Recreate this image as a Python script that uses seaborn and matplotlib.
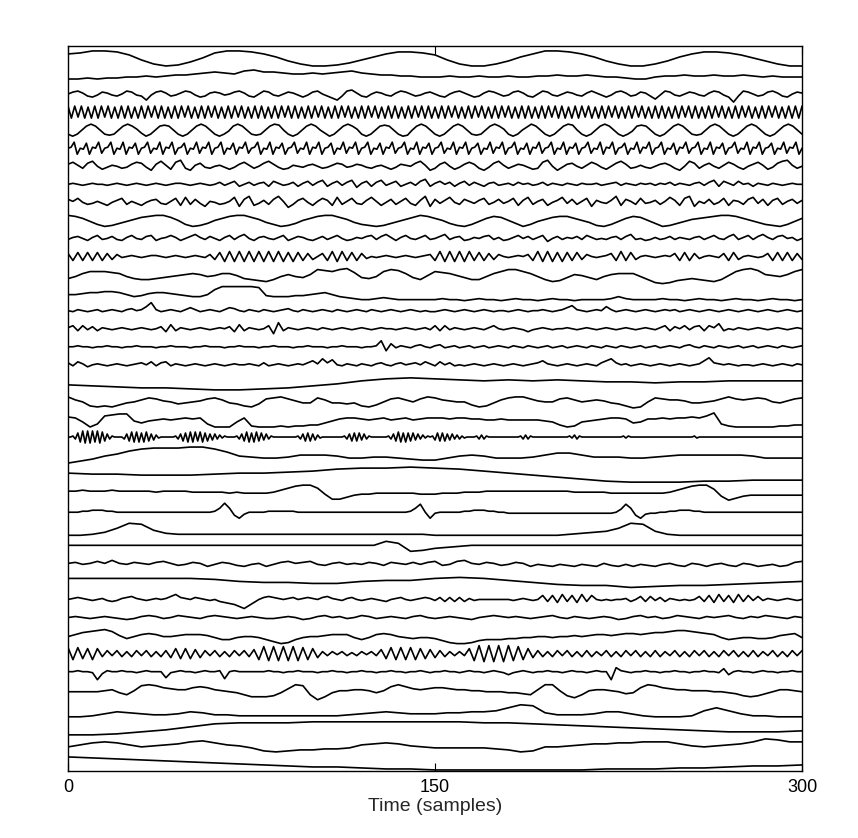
import numpy as np
import pandas as pd
import matplotlib.pyplot as plt
import seaborn as sns

# 40 stacked channels, top to bottom. values are amplitudes (+ is up),
# each list covers samples 0..300 at its own even spacing
ch01 = [4, 5, 7, 7, 6, 3, -2, -6, -8, -7, -4, 0, 5, 7, 7, 6, 4, 1, -3, -6,
        -8, -8, -7, -5, -2, 1, 4, 6, 6, 5, 3, -2, -6, -8, -8, -6, -3, 1, 4, 7,
        7, 6, 4, 1, -3, -6, -8, -8, -6, -3, 1, 4, 6, 6, 5, 3, 0, -3, -6, -8, -8]
ch02 = [-3, -3, -2, -3, -2, -2, -1, -1, 0, -1, 0, 1, 1, 2, 3, 4, 3, 2, 5, 6,
        4, 4, 3, 2, 2, 3, 2, 3, 4, 5, 3, 2, 1, 1, 0, 0, -1, -1, -1, 0,
        -1, -1, 0, -1, -1, 0, -1, -1, 0, 0, 1, 0, 0, 1, 0, -1, -1, -2, -3, -3,
        -1, 0, 0, 1, 0, 0, 1, 0, 0, 1, 0, -1, 0, -1, -1, -1]
ch03 = [0, 2, 3, 1, -2, -3, -1, 2, 1, -1, -2, 0, 3, 2, -1, -2, -6, -1, 2, 3,
        1, -2, -1, 1, 3, 2, -1, -3, -2, 1, 2, 1, -1, 0, 2, 3, 1, -2, -3, 0,
        3, 2, -1, -2, 0, 2, 1, -1, -3, -1, 2, 3, 0, -2, -4, -6, -2, 3, 4, 1,
        -2, -3, 0, 2, 1, -1, -2, 1, 3, 2, 0, -2, -1, 1, 2, 0, -2, -3, 0, 2,
        3, 1, -1, -3, -2, 1, 3, 2, 0, -2, -1, 2, 3, 1, -2, -3, 0, 3, 2, -1,
        -2, 0, 2, 1, -1, -2, 1, 3, 1, -1, -3, -1, 2, 3, 1, -2, -1, 2, 1, -2,
        -5, -1, 3, 2, -1, -2, 0, 2, 1, -1, -2, 1, 3, 2, -1, -3, -8, -2, 3, 2,
        0, -2, -1, 2, 3, 1, -2, -3, 0, 2, 1]
ch04 = [6, -6, 6, -5, 6, -6, 5, -6, 6, -6, 6, -5, 6, -6, 5, -6, 6, -6, 6, -6,
        5, -6, 6, -6, 6, -5, 6, -6, 6, -6, 5, -6, 6, -6, 6, -5, 6, -6, 5, -6,
        6, -6, 6, -5, 6, -6, 5, -6, 6, -6, 6, -5, 6, -6, 5, -6, 6, -6, 6, -6,
        5, -6, 6, -6, 6, -5, 6, -6, 6, -6, 5, -6, 6, -6, 6, -5, 6, -6, 5, -6,
        6, -6, 6, -5, 6, -6, 5, -6, 6, -6, 6, -5, 6, -6, 5, -6, 6, -6, 6, -6,
        5, -6, 6, -6, 6, -5, 6, -6, 6, -6, 5, -6, 6, -6, 6, -5, 6, -6, 5, -6,
        6, -6, 6, -5, 6, -6, 5, -6, 6, -6, 6, -5, 6, -6, 5, -6, 6, -6, 6, -6,
        5, -6, 6, -6, 6, -5, 6, -6, 6, -6, 5, -6, 6, -6, 6, -5, 6, -6, 5, -6,
        6, -6, 6, -5, 6, -6, 5, -6, 6, -6, 6, -5, 6, -6, 5, -6, 6, -6, 6, -6,
        5, -6, 6, -6, 6, -5, 6, -6, 6, -6, 5, -6, 6, -6, 6, -5, 6, -6, 5, -6,
        6, -6, 6, -5, 6, -6, 5, -6, 6, -6, 6, -5, 6, -6, 5, -6, 6, -6, 6, -6,
        6]
ch05 = [-4, -6, -4, 0, 4, 6, 4, 0, -4, -5, -4, 0, 4, 6, 4, 1, -3, -6, -4, 0,
        4, 5, 4, 0, -4, -6, -4, 0, 4, 6, 4, 0, -4, -6, -4, -1, 4, 6, 4, 0,
        -4, -5, -4, 0, 4, 6, 5, 0, -4, -6, -4, 0, 4, 6, 4, 0, -3, -6, -4, 0,
        4, 6, 4, 1, -4, -6, -4, 0, 4, 5, 4, 0, -4, -6, -5, 0, 4, 6, 4, 0,
        -4, -6, -4, 0, 4, 6, 4, 0, -4, -5, -4, 0, 4, 6, 4, 1, -4, -6, -4, 0,
        3, 6, 4, 0, -4, -6, -4, 0, 4, 6, 5, 0, -4, -6, -4, 0, 4, 6, 4, 0,
        -4, -6, -4, -1, 4, 5, 4, 0, -4, -6, -4, 0, 4, 6, 4, 0, -4, -5, -4, 0,
        4, 6, 4, 0, -4, -6, -4, 0, 4, 6, 4, 0, -4, -6, -4, 0, 4, 6, 4, 0, -4]
ch06 = [0, 1, 6, -6, 0, -1, 5, -6, 1, 0, 6, -5, 0, 1, 6, -6, 0, -1, 6, -6, 1, 0, 5, -6,
        0, 1, 6, -5, 0, -1, 6, -6, 1, 0, 6, -6, 0, 1, 5, -6, 0, -1, 6, -5, 1, 0, 6, -6,
        0, 1, 6, -6, 0, -1, 5, -6, 1, 0, 6, -5, 0, 1, 6, -6, 0, -1, 6, -6, 1, 0, 5, -6,
        0, 1, 6, -5, 0, -1, 6, -6, 1, 0, 6, -6, 0, 1, 5, -6, 0, -1, 6, -5, 1, 0, 6, -6,
        0, 1, 6, -6, 0, -1, 5, -6, 1, 0, 6, -5, 0, 1, 6, -6, 0, -1, 6, -6, 1, 0, 5, -6,
        0, 1, 6, -5, 0, -1, 6, -6, 1, 0, 6, -6, 0, 1, 5, -6, 0, -1, 6, -5, 1, 0, 6, -6,
        0, 1, 6, -6, 0, -1, 5, -6, 1, 0, 6, -5, 0, 1, 6, -6, 0, -1, 6, -6, 1, 0, 5, -6,
        0, 1, 6, -5, 0, -1, 6, -6, 1, 0, 6, -6, 0, 1, 5, -6, 0, -1, 6, -5, 1, 0, 6, -6,
        0, 1, 6, -6, 0, -1, 5, -6, 1, 0, 6, -5, 0, 1, 6, -6, 0, -1, 6, -6, 1, 0, 5, -6,
        0, 1, 6, -5, 0, -1, 6, -6, 1, 0, 6, -6, 0, 1, 5, -6, 0, -1, 6, -5, 1, 0, 6, -6,
        0]
ch07 = [2, 4, 1, -2, 3, 5, 0, -3, -1, 1, 0, -2, -1, 2, 4, 3, -1, -4, 2, 5,
        1, -3, 4, 6, -2, -4, 1, 3, -1, -2, 0, 1, -1, -3, -1, 2, 4, 1, -2, 0,
        3, 5, 2, -1, -3, -2, 1, 0, -1, 1, 2, 0, -2, -1, 1, 3, 2, -1, 0, 2,
        1, -1, -2, 0, 1, -1, -3, -1, 2, 1, 0, 3, 5, 1, -4, -2, 2, 4, 0, -3,
        -1, 2, 4, 2, -2, -4, -1, 3, 5, 1, -2, 0, 2, 1, -1, -3, -2, 4, 6, 0,
        -4, -1, 2, 3, 0, -2, 1, 4, 2, -1, -3, 0, 3, 5, 2, -2, -1, 1, -1, -2,
        0, 2, 3, 1, -2, -4, 0, 5, 3, -2, 1, 3, 0, -2, 1, 4, 2, -1, -3, 0,
        2, 4, 1, -3, -1, 3, 5, 6, 1, -2, 0]
ch08 = [0, 1, 0, -1, 0, 1, 0, 0, -1, 0, 1, 0, -1, 0, 1, 0, -1, 0, 1, 0,
        -1, 0, 1, 1, 0, -1, 0, 1, 0, -1, 0, 2, -1, 1, 3, -2, 0, 2, -1, 1,
        2, -2, 3, 1, -1, 0, 2, -2, 1, 3, -1, 2, 4, -2, 1, 3, -1, 2, 4, -3,
        1, 3, -2, 2, 4, -1, 1, 3, -2, 0, 2, -1, 3, 5, -2, 1, 3, 0, 2, -2,
        1, 3, -1, 2, 0, -2, 1, 2, -1, 0, 1, -1, 2, 0, 1, -1, 0, 2, -1, 1,
        0, -1, 1, 0, -1, 1, 0, 0, 1, -1, 0, 1, 2, -1, 1, 0, -1, 1, 0, 1,
        -1, 1, 0, 2, -1, 1, 0, -1, 1, 2, -1, 2, 4, -2, 3, 1, -1, 3, 0, 1,
        -2, 1, 0, -1, 1, 0, -1, 0, 1, 0, 0]
ch09 = [3, 1, 4, 0, -2, -1, 1, -1, -3, 0, 2, 4, -2, 1, -1, -3, 0, 2, 3, -1,
        -2, 1, 4, -3, 5, -2, 3, -1, -4, 1, 0, -2, -1, 1, 5, -4, 3, 6, -3, -1,
        2, -2, 3, 6, 1, -5, -2, 2, 4, 0, -3, 1, 4, 2, -3, 5, -2, 1, 4, -1,
        -2, 2, 5, 1, -3, 0, 3, -2, 1, 4, -1, -3, 2, 6, -4, 3, -1, 2, 5, 0,
        -2, 3, 1, -1, 2, 4, -2, 0, 3, -1, 1, 4, -3, 2, 5, -2, 1, 3, -3, 0,
        2, 5, -1, 3, -2, 1, 4, -4, 2, 0, -1, 2, 6, -3, 3, 1, -2, 4, -1, 0,
        2, -2, 1, 5, 2, -3, 4, 6, -4, 1, -1, 3, -2, 0, 4, -3, 2, 1, -2, 3,
        5, -1, 3, -3, 2, 4, -2, 1, 3, -1, 2]
ch10 = [5, 4, 2, -1, -4, -6, -5, -3, -1, 1, 3, 4, 5, 5, 3, 0, -4, -6, -5, -3,
        0, 2, 4, 5, 5, 3, 1, -2, -4, -6, -5, -3, 0, 2, 4, 5, 5, 3, 1, -2,
        -4, -5, -6, -5, -3, -1, 1, 3, 5, 4, 2, 0, -3, -5, -6, -4, -1, 2, 4, 3,
        0, -3, -6, -4, -1, 1, 3, 4, 4, 2, 0, -2, -5, -6, -4, -1, 2, 4, 3, 0,
        -3, -6, -5, -3, -1, 1, 2, 3, 4, 5, 5, 4, 2, 0, -2, -4, -5, -6, -4, -1, 2]
ch11 = [-1, 1, 2, 0, -2, 1, 3, -1, 0, 2, -1, -2, 1, 3, 0, -1, 2, 3, -2, 0,
        1, 3, 1, -2, 0, 2, 4, 1, -1, 2, 0, -2, 1, 3, -1, 2, 4, 0, -2, 1,
        2, 0, -1, 1, 3, -2, 0, 2, 1, -1, -2, 0, 2, -1, 1, 3, 0, -2, -1, 1,
        0, 2, 3, -1, 2, 4, 1, -2, 1, 3, 0, -1, 1, 3, -1, 0, 2, 4, -1, 1,
        2, -2, -1, 1, 0, 2, 3, -1, 1, -2, -1, 1, 3, 0, 2, -1, 1, 3, -3, 0,
        2, -1, 1, 0, 2, -1, 3, 1, -1, 0, -1, 1, 2, -1, 2, 4, -1, 0, -2, -1,
        1, -1, 0, 2, -1, 1, 0, -1, 1, 2, -1, 1, 3, 0, -1, 2, 4, -1, 1, 3,
        -1, 2, 4, 1, -1, 2, 3, 0, 1, -2, 0]
ch12 = [3, -4, 4, -4, 4, -4, 4, -4, 3, -3, 2,
        -1, 0, 1, 0, -1, 0, 1, 1, 0, -1, 0, 1, 0, -1, 0, 1, 0, -1,
        2, -3, 4, -5, 5, -5, 5, -5, 5, -5, 5, -5, 5, -5, 5, -5, 4, -5, 4, -4, 3, -3,
        0, 3, -4, 5, -5, 5, -4, 4, -4, 3, -2,
        0, -1, 0, 1, 0, -1, 0, 1, 0, -1, 0, 1,
        2, -4, 5, -5, 5, -5, 5, -5, 5, -4, 4, -4, 3, -3, 2,
        0, -1, 0, 1, 0,
        2, -4, 5, -5, 5, -5, 4, -5, 4, -4, 4, -3, 2,
        0, -1, 0, 1, 3, -4, 5, -4, 4, -3,
        0, 1, 0, -1, 0, 1, 0, 3, -4, 4, -4, 3, -2,
        0, 1, 0, -1, 3, -4, 4, -3, 0, 1, 0, -1, 0,
        3, -4, 4, -4, 4, -4, 3, -3]
ch13 = [-4, -2, 1, 3, 3, 3, 2, 1, -2, -4, -5, -5, -4, -3, -2, -1, 0, 1, 0, -2,
        -1, 1, 1, -1, -4, -5, -6, -7, -5, -2, 0, -2, -3, 0, 5, 4, 3, 5, 6, 2,
        -3, -4, -2, 3, 5, 4, 1, -3, -5, -1, 3, 2, 1, -1, -3, -5, -5, -2, 1, 3,
        5, 5, 3, 1, -2, -5, -7, -6, -3, 0, -1, -3, -5, -2, 0, 1, 1, 1, -2, -5,
        -8, -9, -8, -6, -5, -4, -5, -6, -7, -5, -1, 3, 5, 6, 4, 0, -1, -2, 0, 3, 5]
ch14 = [-2, -2, -1, 0, 0, 1, 1, 0, -2, -4, -3, -1, 0, 0, -1, -2, -3, -4, -4, -2,
        3, 6, 6, 6, 6, 6, 5, -3, -4, -4, -4, -3, -3, -2, -1, 0, -2, -4, -5, -6,
        -7, -7, -6, -5, -6, -7, -7, -7, -7, -7, -7, -6, -7, -7, -8, -7, -6, -7, -7, -8,
        -7, -6, -7, -7, -8, -7, -6, -7, -7, -8, -7, -7, -7, -7, -6, -4, -6, -7, -7, -7,
        -7, -6, -7, -7, -8, -7, -6, -7, -7, -8, -7, -6, -7, -7, -8, -7, -6, -7, -7, -8, -7]
ch15 = [0, -1, 1, 0, -1, 0, 1, -1, 0, 1, 0, -1, 1, 2, 0, 1, 4, 8, 1, -1,
        0, 1, 0, -1, 1, 3, 1, -1, 0, 1, 0, -1, 1, 3, 2, 0, -1, 1, 0, -1,
        1, 0, -1, 0, 1, 2, 0, -1, 1, 0, -1, 0, 1, 0, -1, 1, 0, -1, 0, 1,
        0, -1, 1, 0, -1, 0, 1, 0, -1, 0, 1, 0, -1, 0, -1, -1, 0, 1, 0, -1,
        0, 1, 0, -1, 0, 1, 0, -1, 0, 0, -1, 0, 1, 0, -1, 0, 0, 1, 0, -1,
        0, 1, 3, 5, 1, 0, -1, 0, 1, 0, 4, 1, -1, 0, 1, 0, -1, 0, 1, 0,
        -1, 0, 1, 0, 1, -1, 0, 1, 0, -1, 0, 1, 0, -1, 0, 1, 0, -1, 0, 1,
        0, -1, 0, 1, 0, -1, 0, 1, 0, -1, 0]
ch16 = [1, 3, -2, 3, -1, 2, -2, 1, 0, -1, 0, 1, 0, -1, 0, 1, 0, -1, 0, 2,
        -3, 4, -2, 1, 0, -1, 0, 1, 0, -1, 0, 1, 0, 2, -3, 4, -2, 1, 0, -1,
        0, 3, -5, 6, -2, 1, 0, -1, 0, 1, 0, -1, 1, 0, -1, 0, 1, 0, -1, 0,
        1, 0, -1, 0, 1, 0, 0, -1, 0, 1, 0, -1, 0, 1, -1, 3, -2, 3, -1, 1,
        0, -1, 0, 1, 0, -1, 1, 3, 0, -1, 0, 1, 0, -1, -3, -1, 0, 1, 0, -1,
        0, 0, 1, 0, -1, 0, 1, 0, -1, 0, 1, 0, -1, 0, 1, 0, -1, 0, 1, 0,
        -1, 1, 3, -2, 2, 0, 3, -1, 2, 3, -2, 3, 1, 5, -2, 0, -1, 1, 0, -1,
        0, 1, 0, -1, 0, 1, 0, -1, 0, 1, 0]
ch17 = [0, 0, 1, 0, 0, -1, 0, 0, 1, 0, 0, -1, 0, 0, 1, 0, 0, 0, -1, 0,
        0, 1, 0, 0, 0, -1, 0, 0, 1, 0, 0, 0, -1, 0, 0, 1, 0, 0, 0, -1,
        0, 0, 1, 0, 0, 0, -1, 0, 0, 1, 0, 0, 0, -1, 0, 0, 1, 0, 0, 0,
        -1, 0, 0, 1, 6, -4, 3, -1, 1, 0, -1, 1, 2, 0, -1, 1, 2, -1, 0, 1,
        -1, 0, 1, -1, 0, 1, -1, 0, 1, 0, -1, 1, 0, -1, 1, 0, -1, 0, 1, -1,
        0, 1, -1, 0, 1, 0, -1, 1, 0, -1, 1, 0, -1, 1, 0, -1, 0, 1, -1, 0,
        1, -1, 0, 1, 0, -1, 1, 2, 0, -1, 1, 0, -1, 1, 0, -1, 0, 1, -1, 0,
        1, -1, 0, 1, 0, -1, 1, 0, -1, 0, 1]
ch18 = [2, -1, 3, 1, -2, 0, 1, 0, -1, 0, 1, 0, -1, 0, 1, 2, 0, 3, -1, 2,
        3, -1, 1, 0, -1, 0, 1, 0, -1, 0, 1, 0, -1, 0, 1, 0, 0, 1, 0, -1,
        2, -1, 0, 1, 0, -1, 0, 1, 0, 2, 4, 1, 6, 2, 5, 0, -1, 1, 0, -1,
        1, 0, -1, 1, 2, 0, -1, 1, 2, 0, 1, 2, 0, 3, 1, -1, 3, 0, 2, -1,
        0, -1, 0, 1, 0, -1, 0, 1, 0, -1, 0, 1, 0, -1, 0, 1, 2, 4, 1, 0,
        -1, 0, 1, 0, -1, 0, 1, 0, -1, 2, 4, 6, 2, 0, 1, -1, 0, 1, 0, -1,
        0, 1, 0, -1, 0, 1, 0, -1, 0, 1, 4, 7, 2, 1, 0, 1, 0, -1, 0, 0,
        -1, 0, 1, 0, -1, 0, 1, 0, -1, 1, 0]
ch19 = [-2, -3, -4, -5, -5, -6, -7, -7, -6, -5, -3, -1, 2, 4, 5, 4, 3, 2, 3, 2,
        3, 2, 1, 1, 0, 1, 1, 2, 2, 2, 2]
ch20 = [4, 1, -1, -5, -6, -5, -6, -4, -2, -1, 1, 3, 2, 0, -1, -3, -2, -1, 0, 2,
        3, 1, -2, -3, -5, -6, -3, 2, 3, 4, 2, 0, -2, -2, 3, 1, -2, -2, -3, -2,
        -5, -6, -4, -1, 2, 3, 1, -1, 2, 4, 3, 1, 0, -1, -1, -4, -6, -5, -2, 1,
        3, 4, 4, 2, 0, -1, -1, 2, 3, 1, -1, 0, 1, 0, -2, -3, -5, -7, -6, -1,
        3, 2, 1, 1, 0, -2, -2, -1, 0, 2, 4, 2, 1, 2, 3, 2, -1, -2, 0, 2, 3]
ch21 = [2, 1, -3, -8, -5, 3, 4, 5, 5, -2, -4, -2, -1, 0, -1, 0, 1, 0, 1, -5,
        -8, -8, -8, -3, 1, -7, -8, -8, -8, -7, -8, -7, -7, -6, -6, -4, -2, 0, 1, 1,
        0, -1, 0, 1, -1, 0, 1, -1, 0, 1, 1, 1, 0, 1, 1, 0, 0, -1, -1, 0,
        -1, -1, -1, -1, -1, -2, -3, -6, -8, -7, -3, -2, -1, 0, 1, 1, 0, -4, -3, 0,
        0, 1, 0, 1, 1, 2, 1, 3, 6, -5, -7, -8, -8, -8, -8, -8, -8, -7, -7, -6, -6]
ch22 = [0, 0, 1, -2, 4, -5, 6, -6, 6, -6, 6, -5, 6, -6, 5, -4, 3, -2, 1, 0,
        0, 0, 0, -2, 3, -4, 5, -5, 5, -5, 4, -5, 5, -4, 3, -3, 2, -1, 0, 0,
        0, 0, 0, 0, 1, -2, 3, -4, 4, -5, 5, -5, 5, -4, 5, -5, 4, -4, 3, -3,
        3, -2, 2, -1, 1, 0, 0, 0, 0, 1, -2, 3, -4, 5, -5, 4, -5, 5, -4, 4,
        -3, 3, -2, 1, 0, 0, 0, 0, 0, 0, 0, 0, 0, 0, 1, -2, 3, -4, 4, -4,
        3, -3, 2, -1, 0, 0, 0, 0, 0, 0, 0, 0, 0, 1, -2, 3, -4, 4, -4, 4,
        -3, 3, -2, 1, 0, 0, 0, 0, 0, 0, 0, 1, -2, 3, -4, 5, -5, 4, -5, 4,
        -4, 4, -3, 3, -2, 2, -1, 1, 0, 1, -3, 4, -4, 4, -4, 3, -3, 3, -2, 2,
        -2, 1, -1, 0, 0, 0, 0, 1, -2, 2, -2, 1, 0, 0, 0, 0, 0, 0, 0, 0,
        0, 0, 0, 0, 0, 1, -2, 2, -2, 1, 0, 0, 0, 0, 0, 0, 0, 0, 0, 0,
        0, 0, 0, 0, 0, 1, -1, 2, -2, 1, 0, 0, 0, 0, 0, 0, 0, 0, 0, 0,
        0, 0, 0, 0, 0, 0, 0, 1, -1, 1, 0, 0, 0, 0, 0, 0, 0, 0, 0, 0,
        0, 0, 0, 0, 0, 0, 0, 0, 0, 0, 0, 0, 0, 0, 0, 0, 1, -1, 0, 0,
        0, 0, 0, 0, 0, 0, 0, 0, 0, 0, 0, 0, 0, 0, 0, 0, 0, 0, 0, 0,
        0, 0, 0, 0, 0, 0, 0, 0, 0, 0, 0, 0, 0, 0, 0, 0, 0, 0, 0, 0,
        0]
ch23 = [-8, -6, -4, -1, 1, 4, 6, 7, 7, 7, 8, 8, 6, 3, -1, -2, -3, -3, -2, 0,
        0, 0, -1, -3, -3, -2, -2, -3, -4, -5, -5, -3, -1, 0, -1, -3, -3, -3, -2, 0,
        2, 2, 0, -2, -2, -2, -3, -3, -2, -1, 0, 0, 0, 0, 0, 0, -1, -3, -3, -3, -3]
ch24 = [0, -1, -1, -2, -2, -2, -1, 0, 0, 1, 2, 4, 5, 5, 6, 5, 4, 2, 0, -2,
        -4, -6, -8, -9, -9, -9, -8, -8, -7, -7, -7]
ch25 = [0, 0, 1, 0, 0, 0, 1, 0, 0, 0, 0, 0, -1, 0, 0, 0, 0, -1, -1, -1,
        -1, -1, -2, -1, -2, -2, -2, -2, -1, 1, 3, 5, 6, 6, 3, -3, -8, -8, -6, -4,
        -3, -3, -2, -2, -2, -2, -2, -2, -3, -3, -3, -2, -2, -2, -1, -1, -1, 0, 0, 0,
        0, 0, 0, 0, 0, 0, 0, 0, 0, -1, -1, -1, -1, -1, -2, -2, -2, -2, -2, -2,
        -2, -2, -1, 1, 3, 5, 6, 6, 2, -5, -9, -7, -5, -4, -4, -4, -4, -4, -4, -4, -4]
ch26 = [-3, -3, -3, -2, -2, -1, -1, -1, -2, -2, -3, -3, -3, -3, -3, -3, -3, -3, -3, -3,
        -3, -3, -3, -3, -3, -3, -3, -3, -3, -3, -2, 1, 6, 1, -6, -9, -5, -3, -3, -3,
        -3, -2, -2, -2, -2, -2, -2, -3, -3, -3, -3, -3, -3, -3, -3, -3, -3, -3, -3, -3,
        -3, -3, -3, -3, -3, -3, -3, -3, -3, -3, -2, 1, 5, -3, -9, -4, -3, -3, -3, -3,
        -3, -2, -2, -1, -1, -1, -2, -2, -3, -3, -4, -4, -4, -4, -4, -4, -4, -4, -4, -4,
        -4, -4, -4, -4, -4, -4, -4, -4, -4, -4, -4, -4, -3, 0, 5, 1, -6, -9, -5, -4,
        -4, -3, -3, -2, -2, -1, -1, -1, -2, -2, -3, -3, -3, -3, -3, -3, -3, -3, -3, -3,
        -3, -3, -3, -3, -3, -3, -3, -3, -3, -3, -3]
ch27 = [-8, -8, -7, -5, -1, 4, 3, -3, -6, -7, -7, -7, -7, -7, -7, -7, -7, -7, -7, -7,
        -7, -7, -7, -7, -7, -7, -7, -7, -7, -7, -8, -8, -8, -8, -8, -8, -8, -8, -8, -8,
        -8, -7, -6, -5, -4, -1, 4, 3, -4, -7, -8, -8, -8, -8, -8, -8, -8, -8, -8, -8, -8]
ch28 = [0, 0, 0, 0, 0, 0, 0, 0, 0, 0, 0, 0, 0, 0, 0, 0, 0, 0, 0, 0,
        0, 0, 0, 0, 0, 0, 4, 2, -6, -5, -3, -2, -1, 0, 0, 0, 0, 0, 0, 0,
        0, 0, 0, 0, 0, 0, 0, 0, 0, 0, 0, 0, 0, 0, 0, 0, 0, 0, 0, 0, 0]
ch29 = [0, 1, -1, 0, 2, 0, 3, 0, -1, 1, 0, -1, 1, 2, 0, -2, -1, 1, 0, -3,
        -1, 1, 0, -2, -3, -1, 0, -3, -1, 1, 2, 0, 1, 2, -1, -2, 0, 1, -1, 0,
        -1, 1, 0, -2, 1, 0, -1, 1, -1, 1, 2, -2, -1, 2, 3, 0, -1, 1, 0, -2,
        -1, 1, 0, -3, -1, -2, -3, -1, -2, -3, -1, -2, -3, 0, -2, -3, -1, -3, -1, -2,
        -3, -1, 0, -2, -3, 0, -1, -3, -1, 0, -2, -3, 0, -1, -3, -2, -1, -3, -2, 1, 2]
ch30 = [3, 3, 3, 3, 3, 3, 2, 0, -1, -1, -2, -2, 0, 1, 1, 3, 4, 3, 1, -1,
        -3, -4, -4, -6, -5, -4, -4, -3, -2, -1, 0]
ch31 = [0, 1, 2, 1, 0, -1, 0, 1, -1, -2, -1, 1, 2, 3, 1, 0, -1, 0, 1, 0,
        1, 3, 5, 2, 1, 0, 2, 1, 0, -1, 0, -2, -3, -4, -5, -7, -9, -6, -3, 0,
        2, 3, 2, 1, 0, 1, 2, 0, 1, 2, 1, 0, 2, 3, 1, 0, -1, 1, 2, 0,
        -1, 0, 1, 0, -1, -2, 0, 1, 2, 0, -1, 0, 1, 2, 1, -1, 2, -2, 2, -2,
        2, -2, 1, -1, 0, 0, 0, 0, 0, 0, 0, -1, 0, 1, 0, -1, 0, 4, -2, 4,
        -3, 5, -2, 4, -3, 5, -2, 4, 0, -1, 0, -1, 0, 0, 1, -2, 0, 3, -2, 3,
        -1, 2, -2, 1, 0, -1, 0, -1, 0, 3, -2, 4, -3, 5, -2, 4, -3, 5, -2, 4,
        -1, 3, -1, 1, 0, -1, 0, 1, 0, -1, 0]
ch32 = [0, 1, 0, -1, 0, 1, 0, -1, -2, -1, 1, 2, 1, -1, 0, 2, 1, 0, -1, 1,
        2, 1, 0, -1, 0, 1, 0, -1, -1, 0, 1, 0, -2, -1, 1, 2, 0, 1, -1, 0,
        2, 1, -1, 0, 1, 0, -1, 1, 2, 0, -1, 0, 1, 0, -1, -2, 0, 1, 2, 1,
        0, 1, 0, -1, 0, 1, 2, 0, -1, 1, 0, -1, 0, 1, 0, -2, -1, 1, 2, 0,
        1, -1, 0, 2, 1, 0, -1, 1, 0, 1, 2, 0, -1, 1, 0, 2, 1, 0, -1, 1, 0]
ch33 = [-1, 1, 3, 4, 5, 6, 4, 0, -3, -1, 1, 2, 1, -1, -1, 0, 1, 1, 1, 0,
        -2, -4, -4, -2, -1, -1, -2, -4, -6, -8, -7, -4, -2, -1, -1, 0, 1, 1, 1, -2,
        -4, -2, 1, 2, 1, -1, -2, -3, -2, -2, -3, -5, -7, -8, -8, -7, -5, -4, -4, -4,
        -3, -3, -2, -2, -1, -1, -2, -1, -1, 0, -1, 0, 1, 1, 0, 1, 2, 2, 1, 2,
        3, 3, 4, 5, 5, 4, 3, 2, 1, -2, -4, -3, -2, -2, -3, -3, -2, 0, 1, 2, -2]
ch34 = [6, -6, 6, -5, 5, -6, 5,
        -3, 3, -2, 3, -3, 2, -3, 3, -2, 3, -3, 2, -3, 3,
        -4, 5, -5, 5, -5, 4, -4,
        3, -2, 3, -3, 2, -3, 3, -2, 3, -3, 4,
        -6, 7, -7, 7, -7, 7, -7, 7, -7, 6, -6, 5, -4,
        2, -2, 2, -1, 2, -2, 1, -2, 2, -1, 2, -2,
        4, -5, 6, -6, 6, -6, 6, -6, 5, -5, 4, -4, 3, -3, 2,
        -2, 2, -2,
        5, -7, 8, -8, 8, -8, 8, -8, 8, -7, 7, -6, 5, -4,
        3, -3, 2, -3, 3, -2, 3, -3, 2, -3, 3, -3, 2, -2, 3, -3, 2, -3, 3, -2,
        3, -3, 2, -3, 3, -3, 2, -2, 3, -3, 2, -3, 3, -2, 3, -3, 2, -3, 3, -2,
        3, -3, 2, -3, 3, -3, 2, -2, 3, -3, 2, -3, 3, -2, 3]
ch35 = [0, 0, 1, 0, 0, -1, -8, -2, 1, 0, 0, 1, 0, 0, -1, 0, 1, 0, 0, 0,
        -6, -1, 0, 1, 0, 0, -1, 0, 1, 0, 0, 1, -7, 0, 1, 0, 0, 0, 0, 0,
        0, 1, 0, 0, -1, 0, 0, 1, 0, 0, 0, -1, 0, 0, 1, 0, 0, -1, 0, 0,
        1, 0, 0, -1, 0, 0, 1, 0, 0, -1, 0, 0, 1, 0, -1, 0, 0, 1, 0, 0,
        -1, 0, 1, 0, 0, -1, 0, 1, 0, -1, -3, -1, 0, 1, 0, -1, 0, 0, 1, 0,
        0, -1, 0, 1, 0, 0, -1, 0, 1, 0, 0, -8, 4, 1, 0, -1, 0, 0, 1, 0,
        0, -1, 0, 0, 1, 0, 0, -1, 0, 0, 1, 0, 0, -1, 3, -3, 0, 1, 0, 0,
        -1, 0, 1, 0, 0, -1, 0, 0, 1, 0, 0]
ch36 = [-2, -2, -2, -2, -2, -1, 0, -3, -5, -1, 4, 5, 4, 2, 1, 0, 0, 2, 3, 2,
        0, -1, -2, -3, -5, -7, -7, -7, -6, -3, 1, 5, 4, -5, -10, -7, -3, -1, -1, 0,
        0, -1, -3, -1, 3, 5, 3, 1, 0, 1, 2, 2, 1, 0, 0, -1, -1, -2, -2, -2,
        -3, -3, -4, -5, 0, 5, 5, -1, -6, -8, -5, -1, 0, 0, -1, -2, -4, -3, 2, 5,
        4, 2, 1, 0, 0, -1, -1, -1, -2, -2, -3, -4, -6, -7, -6, -4, -2, 0, 0, -1, -2]
ch37 = [-9, -9, -8, -6, -4, -5, -6, -7, -7, -6, -4, -5, -7, -7, -8, -8, -8, -8, -8, -8,
        -8, -8, -8, -7, -6, -5, -4, -5, -6, -6, -6, -5, -5, -4, -4, -3, 0, 3, 2, -5,
        -7, -7, -7, -6, -4, -4, -6, -8, -9, -9, -9, -8, -3, 0, -3, -6, -8, -8, -9, -9, -9]
ch38 = [-9, -9, -8, -6, -4, -1, 2, 3, 3, 3, 4, 4, 4, 4, 4, 4, 4, 3, 3, 2,
        1, 0, -1, -2, -3, -4, -5, -6, -6, -6, -5]
ch39 = [-3, -1, 1, 2, 1, -1, -3, -2, -1, 0, 2, 3, 1, -1, -2, -4, -7, -8, -7, -6,
        -6, -5, -5, -4, -1, 0, 1, 0, -2, -3, -4, -4, -4, -4, -4, -5, -6, -8, -7, -3,
        -3, -2, -1, 0, 0, 1, 1, 2, 2, 2, 0, -2, -3, -2, -1, 0, 2, 5, 4, 2, 2]
ch40 = [5, 4, 3, 2, 1, 0, -1, -2, -3, -4, -5, -5, -6, -7, -7, -8, -8, -8, -8, -8,
        -8, -8, -7, -7, -7, -6, -6, -5, -4, -4, -3]

channels = [ch01, ch02, ch03, ch04, ch05, ch06, ch07, ch08, ch09, ch10,
            ch11, ch12, ch13, ch14, ch15, ch16, ch17, ch18, ch19, ch20,
            ch21, ch22, ch23, ch24, ch25, ch26, ch27, ch28, ch29, ch30,
            ch31, ch32, ch33, ch34, ch35, ch36, ch37, ch38, ch39, ch40]
x_ticks = [0, 150, 300]
n_samples = 300
spacing = 18  # vertical gap between channels

# long table: one row per point, channel k shifted down by k * spacing
frames = []
for k, vals in enumerate(channels):
    t = np.linspace(0, n_samples, len(vals))
    frames.append(pd.DataFrame({"time": t,
                                "value": np.array(vals, dtype=float) - k * spacing,
                                "channel": k}))
df = pd.concat(frames, ignore_index=True)

sns.set_style("white")
plt.rcParams["font.family"] = ["Liberation Sans", "DejaVu Sans"]

fig = plt.figure(figsize=(8.58, 8.38), dpi=100)
ax = fig.add_axes([0.0793, 0.0800, 0.8555, 0.8652])

sns.lineplot(data=df, x="time", y="value", units="channel", estimator=None,
             color="black", linewidth=1.2, ax=ax, legend=False)

ax.set_xlim(0, n_samples)
ax.set_ylim(-(len(channels) - 1) * spacing - 9, 12)
ax.set_xticks(x_ticks)
ax.set_xticklabels([str(v) for v in x_ticks], fontsize=13)
ax.set_yticks([])
ax.tick_params(axis="x", direction="in", length=6, width=0.8, top=True,
               bottom=True, pad=6, colors="black")
ax.set_xlabel("Time (samples)", fontsize=14, labelpad=1)
ax.set_ylabel("")
for s in ax.spines.values():
    s.set_color("black")
    s.set_linewidth(1.0)

fig.savefig("out.png", dpi=100)
